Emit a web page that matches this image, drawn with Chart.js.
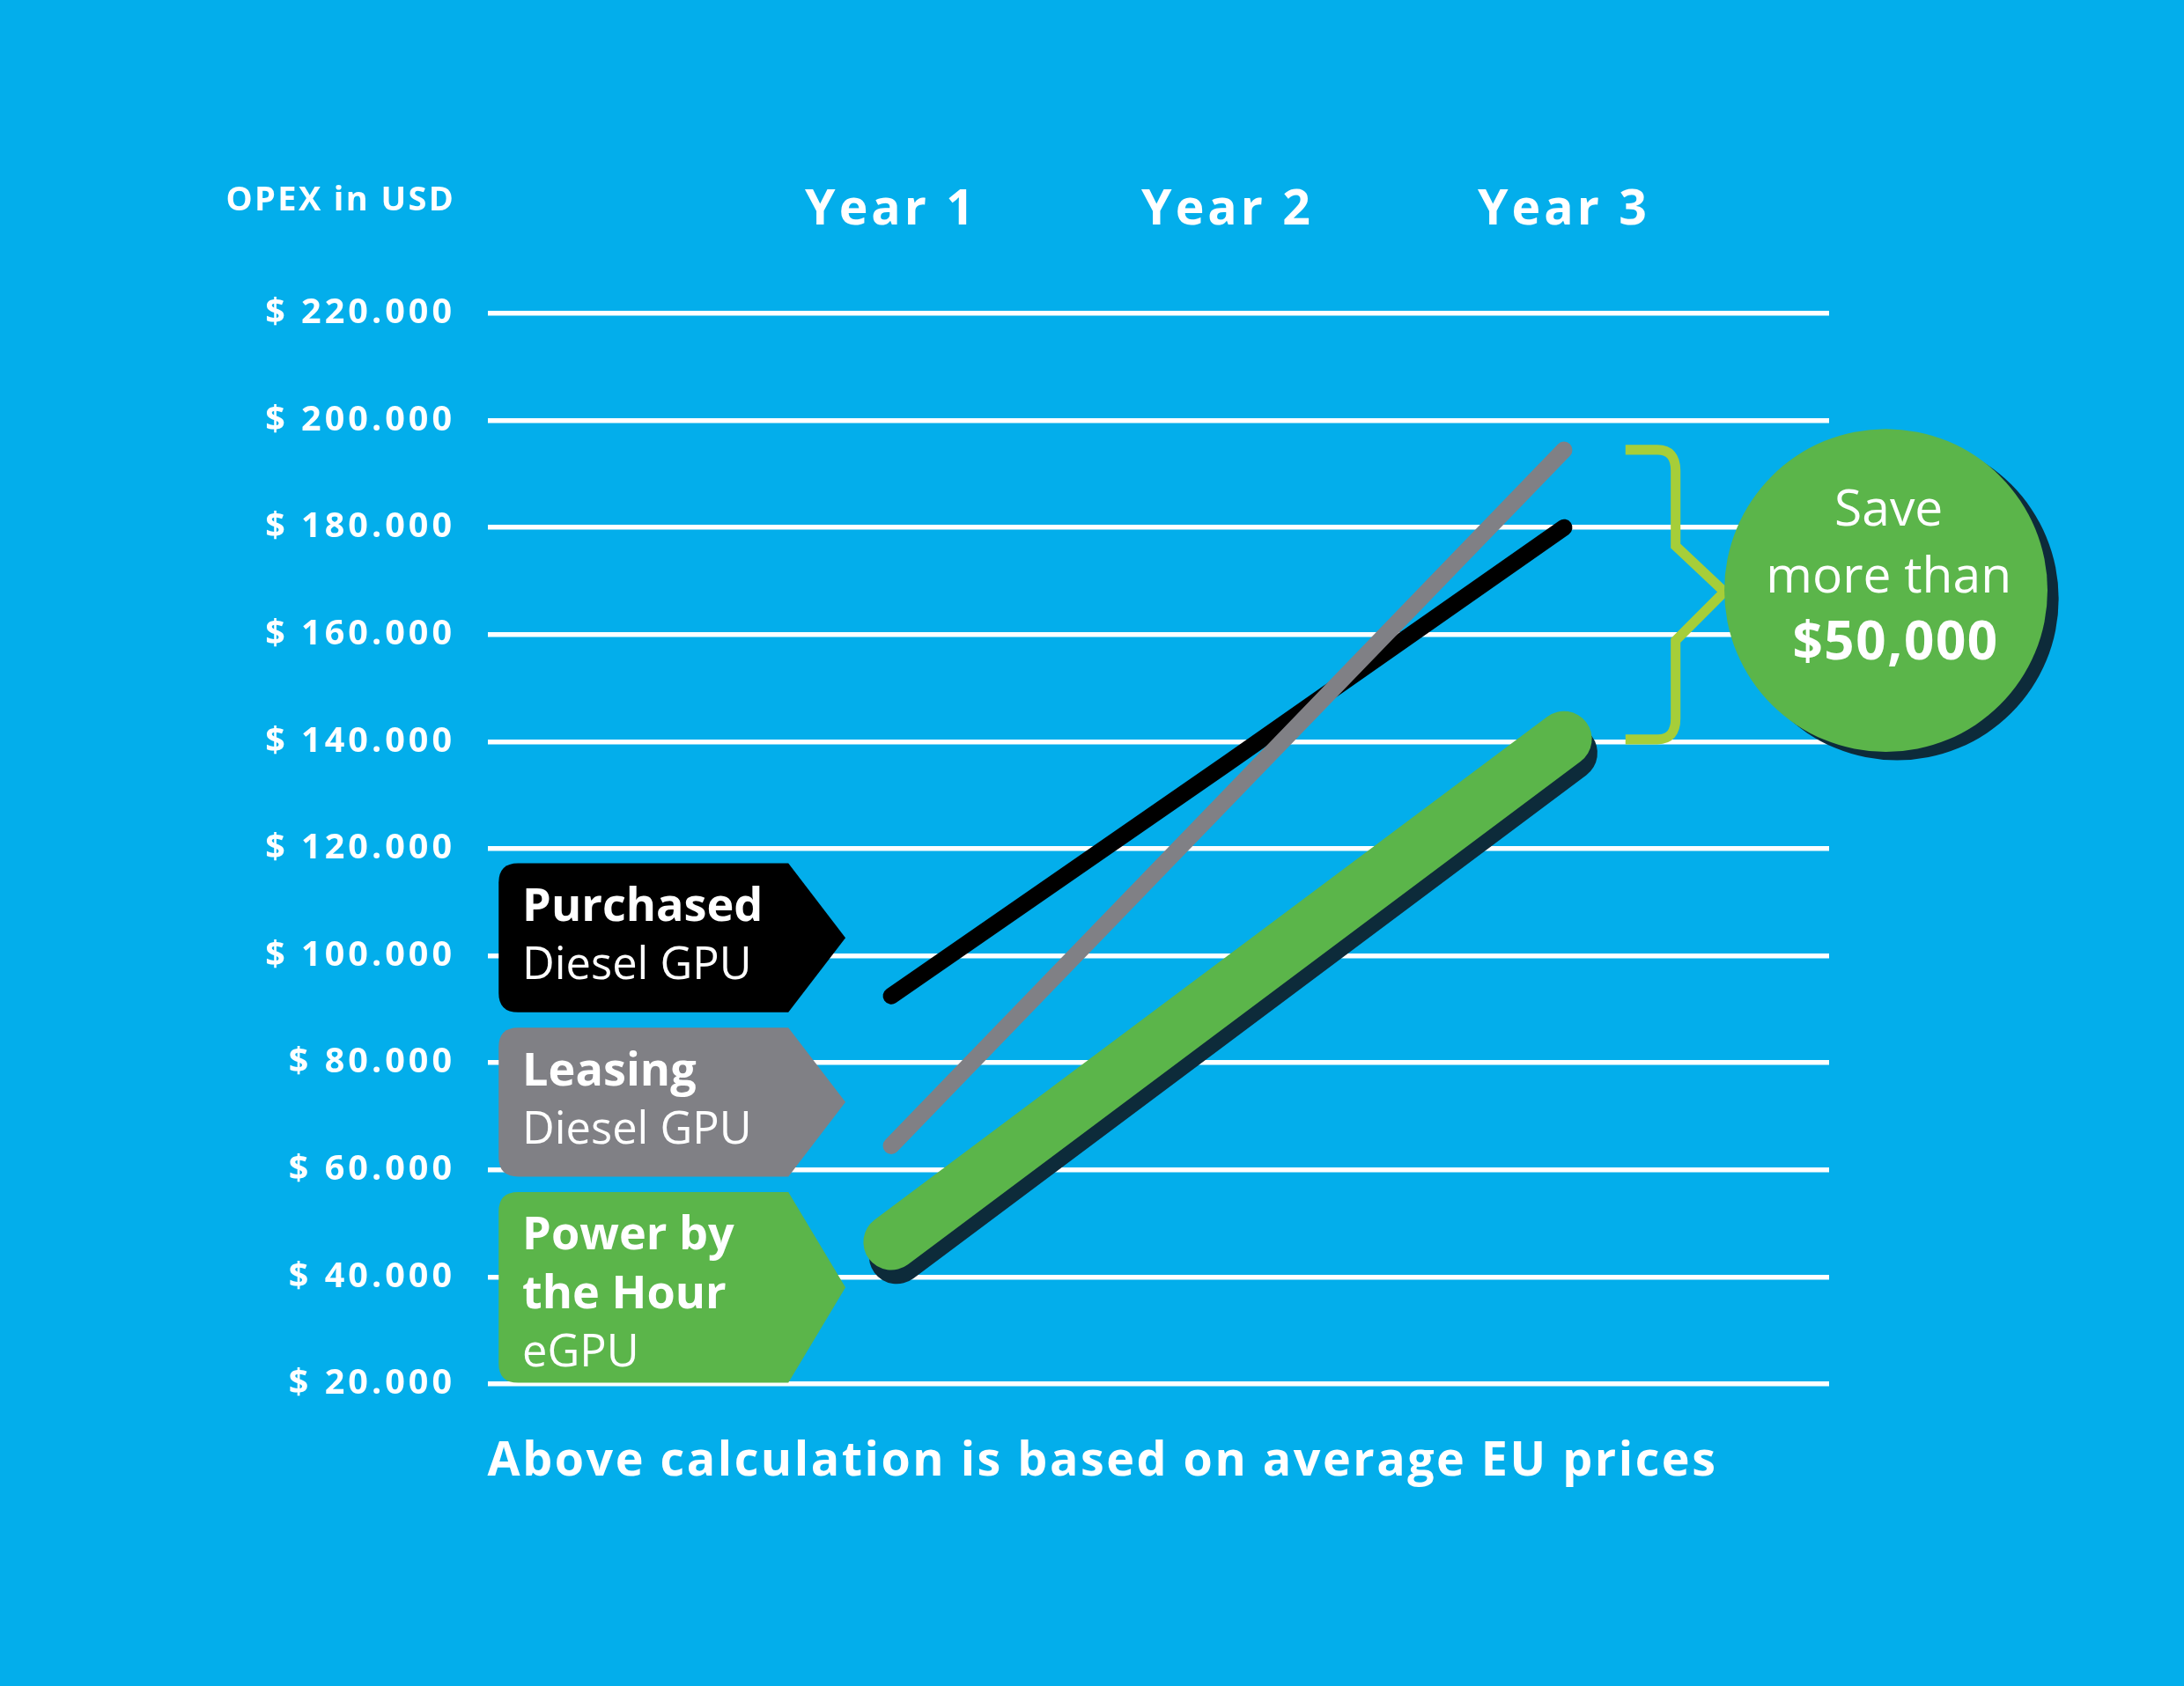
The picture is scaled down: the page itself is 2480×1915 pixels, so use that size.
<!DOCTYPE html>
<html>
<head>
<meta charset="utf-8">
<script src="https://cdn.jsdelivr.net/npm/chart.js@4.4.1/dist/chart.umd.min.js"></script>
<style>
  html, body { margin: 0; padding: 0; background: #03AEEB; }
  canvas { display: block; }
</style>
</head>
<body>
<canvas id="grafica" width="2480" height="1915"></canvas>
<script>
// datos
const years = ['Year 1', 'Year 2', 'Year 3'];
const yearPos = [1, 2, 3];
const purchased = [92500, 136000, 180000];
const leasing = [64500, 129500, 194500];
const powerByHour = [46500, 93500, 140500];
const yTicks = [20000, 40000, 60000, 80000, 100000, 120000, 140000, 160000, 180000, 200000, 220000];

const S = 2480 / 1568; // escala de la imagen de referencia
const FONT = '"Open Sans", sans-serif';

function fmtUSD(v) {
  return '$ ' + Math.floor(v / 1000) + '.' + String(v % 1000).padStart(3, '0');
}

function pts(values) {
  return values.map((v, i) => ({ x: yearPos[i], y: v }));
}

// espaciado de letras para los ejes
const espaciado = {
  id: 'espaciado',
  beforeDraw(chart) { chart.ctx.letterSpacing = '4px'; },
  beforeDatasetsDraw(chart) { chart.ctx.letterSpacing = '0px'; }
};

// sombra para la línea verde
const sombra = {
  id: 'sombra',
  beforeDatasetDraw(chart, args) {
    if (args.index !== 2) return;
    const ctx = chart.ctx;
    ctx.save();
    ctx.shadowColor = '#0d2b3a';
    ctx.shadowOffsetX = 4 * S;
    ctx.shadowOffsetY = 10 * S;
    ctx.shadowBlur = 0;
  },
  afterDatasetDraw(chart, args) {
    if (args.index !== 2) return;
    chart.ctx.restore();
  }
};

function etiqueta(ctx, y, h, color, bold, normal, textColor) {
  ctx.fillStyle = color;
  ctx.beginPath();
  ctx.moveTo(372, y);
  ctx.lineTo(566, y);
  ctx.lineTo(607, y + h / 2);
  ctx.lineTo(566, y + h);
  ctx.lineTo(372, y + h);
  ctx.quadraticCurveTo(358, y + h, 358, y + h - 14);
  ctx.lineTo(358, y + 14);
  ctx.quadraticCurveTo(358, y, 372, y);
  ctx.fill();
  ctx.fillStyle = textColor;
  ctx.textAlign = 'left';
  ctx.textBaseline = 'middle';
  let ty = y + 32;
  bold.forEach(t => {
    ctx.font = '700 33px ' + FONT;
    ctx.fillText(t, 375, ty);
    ty += 42;
  });
  normal.forEach(t => {
    ctx.font = '400 32px ' + FONT;
    ctx.fillText(t, 375, ty);
    ty += 42;
  });
}

const decoracion = {
  id: 'decoracion',
  afterDraw(chart) {
    const ctx = chart.ctx;
    ctx.save();
    ctx.scale(S, S);

    ctx.fillStyle = '#fff';
    ctx.letterSpacing = '1.5px';
    ctx.font = '700 24px ' + FONT;
    ctx.textAlign = 'right';
    ctx.textBaseline = 'middle';
    ctx.fillText('OPEX in USD', 327, 144);
    ctx.letterSpacing = '0px';

    etiqueta(ctx, 620, 107, '#000000', ['Purchased'], ['Diesel GPU'], '#fff');
    etiqueta(ctx, 738, 107, '#808085', ['Leasing'], ['Diesel GPU'], '#fff');
    etiqueta(ctx, 856, 137, '#5bb54a', ['Power by', 'the Hour'], ['eGPU'], '#fff');

    // llave
    ctx.strokeStyle = '#a6ce39';
    ctx.lineWidth = 7;
    ctx.beginPath();
    ctx.moveTo(1167, 323);
    ctx.lineTo(1190, 323);
    ctx.quadraticCurveTo(1203, 323, 1203, 338);
    ctx.lineTo(1203, 392);
    ctx.lineTo(1238, 425);
    ctx.lineTo(1203, 460);
    ctx.lineTo(1203, 516);
    ctx.quadraticCurveTo(1203, 531, 1190, 531);
    ctx.lineTo(1167, 531);
    ctx.stroke();

    // burbuja
    ctx.fillStyle = '#0d2b3a';
    ctx.beginPath();
    ctx.arc(1362, 430, 116, 0, Math.PI * 2);
    ctx.fill();
    ctx.fillStyle = '#5bb54a';
    ctx.beginPath();
    ctx.arc(1354, 424, 116, 0, Math.PI * 2);
    ctx.fill();
    ctx.fillStyle = '#fff';
    ctx.textAlign = 'center';
    ctx.font = '400 36px ' + FONT;
    ctx.fillText('Save', 1356, 367);
    ctx.fillText('more than', 1356, 415);
    ctx.letterSpacing = '1px';
    ctx.font = '700 38px ' + FONT;
    ctx.fillText('$50,000', 1361, 463);

    ctx.textAlign = 'left';
    ctx.letterSpacing = '1.6px';
    ctx.font = '700 34px ' + FONT;
    ctx.fillText('Above calculation is based on average EU prices', 350, 1050);
    ctx.restore();
  }
};

new Chart(document.getElementById('grafica'), {
  type: 'line',
  data: {
    datasets: [
      { label: 'Leasing', data: pts(leasing), borderColor: '#808085', borderWidth: 12 * S },
      { label: 'Purchased', data: pts(purchased), borderColor: '#000000', borderWidth: 12 * S },
      { label: 'Power by the Hour', data: pts(powerByHour), borderColor: '#5bb54a', borderWidth: 40 * S }
    ]
  },
  options: {
    responsive: false,
    animation: false,
    devicePixelRatio: 1,
    layout: { padding: { left: 0, right: 403, top: 0, bottom: 343 } },
    elements: {
      point: { radius: 0 },
      line: { borderCapStyle: 'round', tension: 0 }
    },
    plugins: { legend: { display: false }, tooltip: { enabled: false } },
    scales: {
      x: {
        type: 'linear',
        position: 'top',
        min: -0.199,
        max: 3.788,
        afterBuildTicks: s => { s.ticks = yearPos.map(v => ({ value: v })); },
        afterFit: s => { s.height = 356; },
        grid: { display: false },
        border: { display: false },
        ticks: {
          color: '#fff',
          padding: 76,
          font: { family: FONT, weight: 'bold', size: 35 * S },
          callback: v => years[yearPos.indexOf(v)]
        }
      },
      y: {
        min: 20000,
        max: 220000,
        afterBuildTicks: s => { s.ticks = yTicks.map(v => ({ value: v })); },
        afterFit: s => { s.width = 554; },
        border: { display: false },
        grid: { color: '#ffffff', lineWidth: 3.5 * S, drawTicks: false },
        ticks: {
          color: '#fff',
          padding: 37,
          font: { family: FONT, weight: 'bold', size: 25 * S },
          callback: v => fmtUSD(v)
        }
      }
    }
  },
  plugins: [espaciado, sombra, decoracion]
});
</script>
</body>
</html>
